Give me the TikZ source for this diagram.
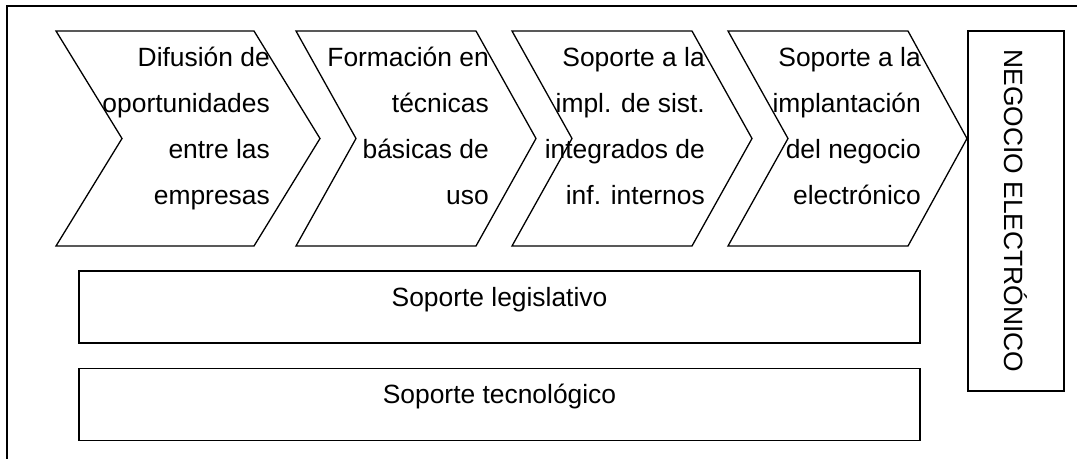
\documentclass[tikz,border=0pt]{standalone}
\usepackage{fontspec}
\setmainfont{Liberation Sans}
\usetikzlibrary{positioning}

\begin{document}
\begin{tikzpicture}[x=1pt,y=-1pt]
        \tikzstyle{chevron}=[draw=black,line width=1.3pt,line join=miter]
        \tikzstyle{chevtext}=[anchor=base east,align=right,inner sep=0pt,font=\fontsize{26.4}{46}\selectfont]
        \tikzstyle{support}=[draw=black,line width=1.3pt,minimum width=841pt,minimum height=72pt,text height=19pt,text depth=21pt,font=\fontsize{26.4}{32}\selectfont]
        \tikzstyle{goal}=[draw=black,line width=1.3pt,rotate=-90,minimum width=360pt,minimum height=96pt,font=\fontsize{26.4}{32}\selectfont]
        \useasboundingbox (0,0) rectangle (1077,459);
        % marco
        \draw[line width=1.3pt] (1077,6) -- (7,6) -- (7,459);
        % etapas
        \draw[chevron] (56,31) -- (254,31) -- (320,138.5) -- (254,246) -- (56,246) -- (122,138.5) -- cycle;
        \draw[chevron] (296,31) -- (476,31) -- (536,138.5) -- (476,246) -- (296,246) -- (356,138.5) -- cycle;
        \draw[chevron] (512,31) -- (692,31) -- (752,138.5) -- (692,246) -- (512,246) -- (572,138.5) -- cycle;
        \draw[chevron] (728,31) -- (908,31) -- (967,138.5) -- (908,246) -- (728,246) -- (788,138.5) -- cycle;
        \node [chevtext] (c1) at (270,204) {Difusión de\\oportunidades\\entre las\\empresas};
        \node [chevtext] (c2) at (489,204) {Formación en\\técnicas\\básicas de\\uso};
        \node [chevtext] (c3) at (705,204) {Soporte a la\\impl. de sist.\\integrados de\\inf. internos};
        \node [chevtext] (c4) at (921,204) {Soporte a la\\implantación\\del negocio\\electrónico};
        % soportes
        \node [support] (legis) at (499.5,307) {Soporte legislativo};
        \node [support, below=24pt of legis] (tecno) {Soporte tecnológico};
        \node [goal] (neg) at (1016,211) {NEGOCIO ELECTRÓNICO};
\end{tikzpicture}
\end{document}
